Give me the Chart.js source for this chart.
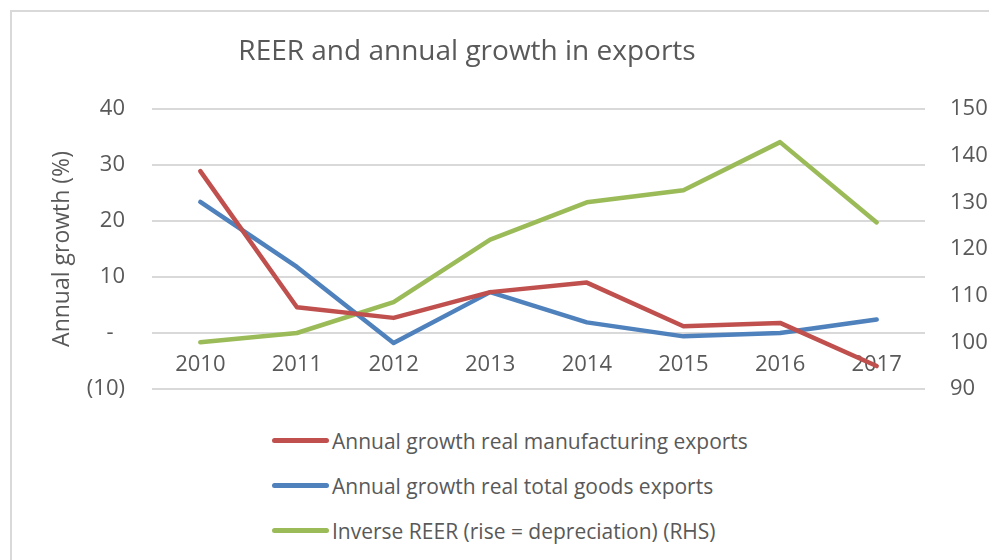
<!DOCTYPE html>
<html>
<head>
<meta charset="utf-8">
<script src="https://cdn.jsdelivr.net/npm/chart.js@4.4.1/dist/chart.umd.min.js"></script>
<style>
  html, body { margin: 0; padding: 0; background: #fff; }
  body { width: 989px; height: 560px; position: relative; overflow: hidden; font-family: 'Open Sans', sans-serif; }
  .frame { position: absolute; left: 10px; top: 10px; width: 1000px; height: 600px; border-left: 2px solid #d9d9d9; border-top: 2px solid #d9d9d9; }
  .chart-wrap { position: absolute; left: 0; top: 0; width: 989px; height: 410px; }
  .legend { position: absolute; left: 272px; top: 418px; }
  .legend-row { display: flex; align-items: center; height: 45px; }
  .legend-swatch { width: 57px; height: 5px; border-radius: 3px; margin-right: 3px; }
  .legend-text { font-size: 21px; color: #595959; white-space: nowrap; }
</style>
</head>
<body>
<div class="frame"></div>
<div class="chart-wrap"><canvas id="chart" width="989" height="410"></canvas></div>
<div class="legend" id="legend"></div>
<script>
const years = ['2010', '2011', '2012', '2013', '2014', '2015', '2016', '2017'];
const manufacturingGrowth = [28.9, 4.6, 2.7, 7.3, 9.0, 1.2, 1.8, -5.9];
const totalGoodsGrowth = [23.4, 11.8, -1.8, 7.3, 1.9, -0.6, 0.0, 2.4];
const inverseReer = [100.0, 102.0, 108.6, 122.0, 130.0, 132.6, 142.9, 125.7];

const chartTitle = 'REER and annual growth in exports';
const seriesNames = [
  'Annual growth real manufacturing exports',
  'Annual growth real total goods exports',
  'Inverse REER (rise = depreciation) (RHS)'
];
const seriesColors = ['#c0504d', '#4f81bd', '#9bbb59'];

const textColor = '#595959';
const fontFamily = "'Open Sans', sans-serif";

function formatGrowthTick(v) {
  if (v === 0) return '-  ';
  if (v < 0) return '(' + Math.abs(v) + ')';
  return String(v);
}

// fixed axis width; the big tick padding otherwise leaks into the vertical layout padding
function fixedWidth(w) {
  return (scale) => {
    scale.width = w;
    scale.paddingTop = 0;
    scale.paddingBottom = 0;
  };
}

// title drawn by hand so it can sit a bit left of the canvas centre like the original
const titlePlugin = {
  id: 'offsetTitle',
  afterDraw(chart) {
    const ctx = chart.ctx;
    ctx.save();
    ctx.font = `400 28px ${fontFamily}`;
    ctx.fillStyle = textColor;
    ctx.textAlign = 'center';
    ctx.textBaseline = 'alphabetic';
    ctx.fillText(chartTitle, 467, 60);
    ctx.restore();
  }
};

const datasets = [
  { label: seriesNames[0], data: manufacturingGrowth, yAxisID: 'y' },
  { label: seriesNames[1], data: totalGoodsGrowth, yAxisID: 'y' },
  { label: seriesNames[2], data: inverseReer, yAxisID: 'y1' }
].map((ds, i) => ({
  ...ds,
  borderColor: seriesColors[i],
  backgroundColor: seriesColors[i],
  borderWidth: 4.5,
  pointRadius: 0,
  tension: 0,
  borderCapStyle: 'round',
  borderJoinStyle: 'round'
}));

new Chart(document.getElementById('chart'), {
  type: 'line',
  data: { labels: years, datasets },
  options: {
    responsive: false,
    animation: false,
    layout: { padding: { left: 12, top: 109, right: 0, bottom: 21 } },
    plugins: {
      legend: { display: false },
      title: { display: false },
      tooltip: { enabled: false }
    },
    scales: {
      x: {
        type: 'category',
        position: { y: 0 },
        offset: true,
        // labels hang off the zero line, so the axis needs no room of its own
        afterFit(scale) { scale.height = 0; },
        grid: { display: false },
        border: { display: false },
        ticks: {
          color: textColor,
          font: { family: fontFamily, size: 22 },
          padding: 11,
          maxRotation: 0
        }
      },
      y: {
        position: 'left',
        min: -10,
        max: 40,
        afterFit: fixedWidth(140),
        grid: { color: '#d9d9d9', lineWidth: 2, drawTicks: false },
        border: { display: false },
        ticks: {
          stepSize: 10,
          color: textColor,
          font: { family: fontFamily, size: 22 },
          padding: 27,
          callback: formatGrowthTick
        },
        title: {
          display: true,
          text: 'Annual growth (%)',
          color: textColor,
          font: { family: fontFamily, size: 23 },
          padding: { top: 37, bottom: 0 }
        }
      },
      y1: {
        position: 'right',
        min: 90,
        max: 150,
        afterFit: fixedWidth(64),
        grid: { display: false, drawTicks: false },
        border: { display: false },
        ticks: {
          stepSize: 10,
          color: textColor,
          font: { family: fontFamily, size: 22 },
          padding: 25
        }
      }
    }
  },
  plugins: [titlePlugin]
});

// legend stacked one entry per row, as in the original
const legendEl = document.getElementById('legend');
seriesNames.forEach((name, i) => {
  const row = document.createElement('div');
  row.className = 'legend-row';
  const swatch = document.createElement('span');
  swatch.className = 'legend-swatch';
  swatch.style.background = seriesColors[i];
  const text = document.createElement('span');
  text.className = 'legend-text';
  text.textContent = name;
  row.appendChild(swatch);
  row.appendChild(text);
  legendEl.appendChild(row);
});
</script>
</body>
</html>
